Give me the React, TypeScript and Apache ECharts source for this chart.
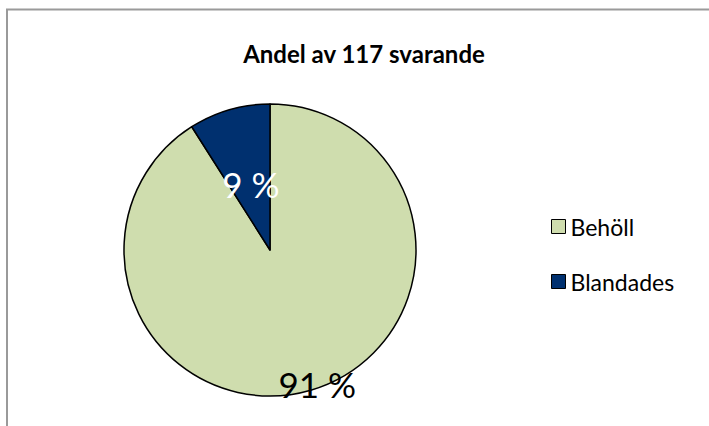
import React, { useEffect, useRef } from "react";
import * as echarts from "echarts";

const titleText = "Andel av 117 svarande";
const categories = ["Behöll", "Blandades"];
const values = [91, 9];
const colors = ["#CFDDAE", "#00306F"];

export default function App() {
  const ref = useRef<HTMLDivElement>(null);
  useEffect(() => {
    if (!ref.current) return;
    const chart = echarts.init(ref.current, null, { renderer: "svg" });
    const font = "Lato, 'Open Sans', sans-serif";
    chart.setOption({
      animation: false,
      backgroundColor: "#ffffff",
      title: {
        text: titleText,
        left: 364,
        textAlign: "center",
        top: 39,
        padding: 0,
        textStyle: { fontFamily: font, fontWeight: "bold", fontSize: 24, lineHeight: 28, color: "#000" },
      },
      legend: {
        orient: "vertical",
        left: 551,
        top: 215,
        padding: 0,
        itemWidth: 14,
        itemHeight: 14,
        itemGap: 32,
        icon: "rect",
        data: categories,
        itemStyle: { borderColor: "#000", borderWidth: 1 },
        textStyle: { fontFamily: font, fontSize: 23, lineHeight: 23, color: "#000" },
      },
      graphic: [
        {
          type: "rect",
          shape: { x: 7, y: 9.5, width: 720, height: 430 },
          style: { fill: "none", stroke: "#9a9a9a", lineWidth: 2 },
          silent: true,
        },
      ],
      series: [
        {
          type: "pie",
          center: [270, 250],
          radius: [0, 146],
          startAngle: 90,
          clockwise: true,
          itemStyle: { borderColor: "#000", borderWidth: 1.5 },
          emphasis: { disabled: true },
          labelLine: { show: false },
          data: categories.map((c, i) => ({
            name: c,
            value: values[i],
            itemStyle: { color: colors[i] },
            label: {
              show: true,
              position: "inner",
              formatter: "{c} %",
              fontFamily: font,
              fontSize: 35,
              color: i === 0 ? "#000" : "#fff",
              offset: i === 0 ? [26, 61] : [2, 7],
            },
          })),
        },
      ],
    });
    return () => chart.dispose();
  }, []);
  return <div ref={ref} style={{ width: 709, height: 426, position: "absolute", left: 0, top: 0 }} />;
}
